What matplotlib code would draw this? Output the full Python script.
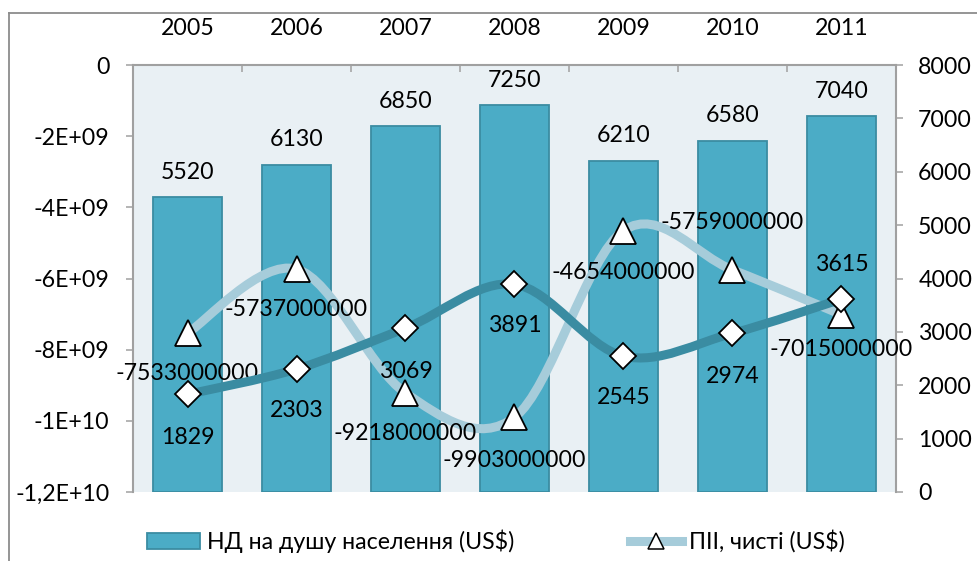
import matplotlib
matplotlib.use("Agg")
import matplotlib.pyplot as plt
import numpy as np
from matplotlib.path import Path
from matplotlib.patches import PathPatch, Patch
from matplotlib.lines import Line2D
from matplotlib.ticker import FixedLocator, FixedFormatter

# ---------------- data ----------------
years = ["2005", "2006", "2007", "2008", "2009", "2010", "2011"]
nd_per_capita = [5520, 6130, 6850, 7250, 6210, 6580, 7040]           # bars, right axis
fdi_net = [-7533000000, -5737000000, -9218000000, -9903000000,
           -4654000000, -5759000000, -7015000000]                     # triangles, left axis
second_series = [1829, 2303, 3069, 3891, 2545, 2974, 3615]            # diamonds, right axis

left_ticks = [0, -2e9, -4e9, -6e9, -8e9, -1e10, -1.2e10]
left_tick_labels = ["0", "-2E+09", "-4E+09", "-6E+09", "-8E+09", "-1E+10", "-1,2E+10"]
right_ticks = [0, 1000, 2000, 3000, 4000, 5000, 6000, 7000, 8000]
right_tick_labels = ["0", "1000", "2000", "3000", "4000", "5000", "6000", "7000", "8000"]

bar_label = "НД на душу населення (US$)"
fdi_label = "ПІІ, чисті (US$)"

# ---------------- style ----------------
FONT = "Lato"
FS = 16.7
BAR_C = "#4BACC6"
BAR_EDGE = "#3B8CA2"
BG = "#E9F0F4"
LIGHT = "#A6CCDA"
DARK = "#3A8CA2"
GRAY = "#A0A0A0"

plt.rcParams["font.family"] = [FONT, "DejaVu Sans"]

fig = plt.figure(figsize=(9.77, 5.61), dpi=100)
ax = fig.add_axes([133/977, 1-492/561, 763/977, 427/561])
ax.set_facecolor(BG)
ax2 = ax.twinx()   # left scale (triangles)
ax3 = ax.twinx()   # right scale (diamonds), drawn on top

x = np.arange(len(years))
ax.set_xlim(-0.5, len(years) - 0.5)
ax.set_ylim(0, 8000)
ax2.set_ylim(-1.2e10, 0)
ax3.set_ylim(0, 8000)

# bars
bars = ax.bar(x, nd_per_capita, width=0.64, color=BAR_C, edgecolor=BAR_EDGE,
              linewidth=1.3, zorder=2)
for xi, v in zip(x, nd_per_capita):
    ax.annotate(str(v), (xi, v), xytext=(0, 18), textcoords="offset points",
                ha="center", va="center", fontsize=FS, color="black")


def smooth_path(xs, ys):
    pts = np.column_stack([xs, ys]).astype(float)
    n = len(pts)
    verts = [pts[0]]
    codes = [Path.MOVETO]
    for i in range(n - 1):
        p0 = pts[i - 1] if i > 0 else pts[i]
        p1 = pts[i]
        p2 = pts[i + 1]
        p3 = pts[i + 2] if i + 2 < n else pts[i + 1]
        c1 = p1 + (p2 - p0) / 6.0
        c2 = p2 - (p3 - p1) / 6.0
        verts += [c1, c2, p2]
        codes += [Path.CURVE4] * 3
    return Path(verts, codes)


# light line (FDI) on left scale
ax2.add_patch(PathPatch(smooth_path(x, fdi_net), fill=False, edgecolor=LIGHT,
                        lw=6.5, capstyle="round", joinstyle="round", zorder=3))
ax2.plot(x, fdi_net, ls="none", marker="^", markersize=19, markerfacecolor="white",
         markeredgecolor="black", markeredgewidth=1.3, zorder=4)
fdi_offsets = [-29, -29, -29, -31, -30, 34, -25]
for xi, v, off in zip(x, fdi_net, fdi_offsets):
    ax2.annotate(str(v), (xi, v), xytext=(0, off), textcoords="offset points",
                 ha="center", va="center", fontsize=FS, color="black", zorder=6)

# dark line (diamonds) on right scale
ax3.add_patch(PathPatch(smooth_path(x, second_series), fill=False, edgecolor=DARK,
                        lw=6.5, capstyle="round", joinstyle="round", zorder=3))
ax3.plot(x, second_series, ls="none", marker="D", markersize=13, markerfacecolor="white",
         markeredgecolor="black", markeredgewidth=1.3, zorder=4)
sec_offsets = [-31, -30, -31, -30, -30, -31, 25]
for xi, v, off in zip(x, second_series, sec_offsets):
    ax3.annotate(str(v), (xi, v), xytext=(0, off), textcoords="offset points",
                 ha="center", va="center", fontsize=FS, color="black", zorder=6)

# ----- axes styling -----
# x axis on top
ax.xaxis.tick_top()
ax.xaxis.set_major_locator(FixedLocator(list(x)))
ax.xaxis.set_major_formatter(FixedFormatter(years))
ax.xaxis.set_minor_locator(FixedLocator(list(np.arange(0.5, len(years) - 1, 1.0))))
ax.tick_params(axis="x", which="major", length=0, pad=19, labelsize=FS, top=True, bottom=False)
ax.tick_params(axis="x", which="minor", length=5, width=1.1, color=GRAY, direction="in",
               top=True, bottom=False)

# right scale ticks on ax
ax.yaxis.tick_right()
ax.yaxis.set_major_locator(FixedLocator(right_ticks))
ax.yaxis.set_major_formatter(FixedFormatter(right_tick_labels))
ax.tick_params(axis="y", length=5, width=1.1, color=GRAY, pad=11, labelsize=FS,
               direction="out", right=True, left=False)

# left scale ticks on ax2
ax2.yaxis.tick_left()
ax2.yaxis.set_major_locator(FixedLocator(left_ticks))
ax2.yaxis.set_major_formatter(FixedFormatter(left_tick_labels))
ax2.tick_params(axis="y", length=5, width=1.1, color=GRAY, pad=12, labelsize=FS,
                direction="out", left=True, right=False)

ax3.set_yticks([])
for a in (ax, ax2, ax3):
    for s in a.spines.values():
        s.set_visible(False)
for side in ("left", "right", "top"):
    ax.spines[side].set_visible(True)
    ax.spines[side].set_color(GRAY)
    ax.spines[side].set_linewidth(1.5)

# legend
h_bar = Patch(facecolor=BAR_C, edgecolor=BAR_EDGE, linewidth=1.3)
h_line = Line2D([], [], color=LIGHT, lw=6.5, marker="^", markersize=12,
                markerfacecolor="white", markeredgecolor="black", markeredgewidth=1.1)
fig.legend([h_bar, h_line], [bar_label, fdi_label], loc="center",
           bbox_to_anchor=(496/977, 1-541/561), ncol=2, frameon=False, fontsize=FS,
           handlelength=2.25, handleheight=0.7, handletextpad=0.3, columnspacing=5.0)

# outer chart border (partially visible)
fig.add_artist(Line2D([9/977, 9/977], [0, 1-12.7/561], transform=fig.transFigure,
                      color="#8C8C8C", lw=1.3))
fig.add_artist(Line2D([9/977, 1], [1-12.7/561, 1-12.7/561], transform=fig.transFigure,
                      color="#8C8C8C", lw=1.3))

fig.savefig("out.png", dpi=100)
